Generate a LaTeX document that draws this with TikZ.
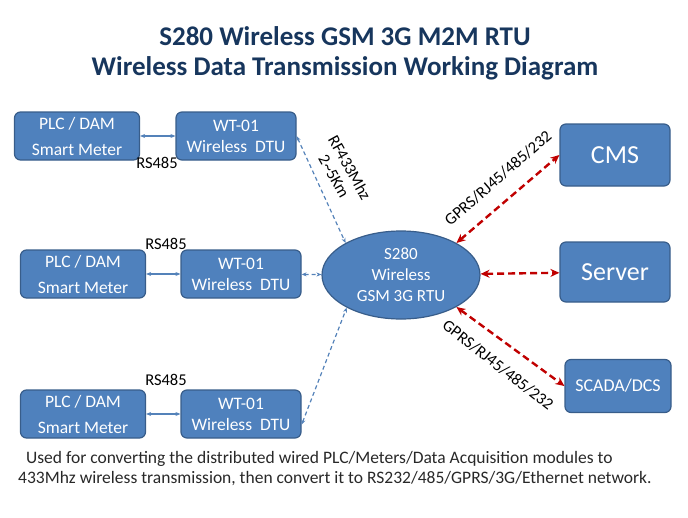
\documentclass[tikz,border=0pt]{standalone}
\usepackage{fontspec}
\setmainfont{Carlito}
\usepackage{tikz}
\usetikzlibrary{shapes.geometric,arrows.meta,positioning}
\definecolor{boxfill}{RGB}{79,129,189}
\definecolor{boxline}{RGB}{56,93,138}
\definecolor{linkblue}{RGB}{84,130,185}
\definecolor{linkred}{RGB}{192,0,0}
\definecolor{titlenavy}{RGB}{23,54,93}
\definecolor{notegrey}{RGB}{40,40,40}

\begin{document}
\begin{tikzpicture}[
  x=1pt, y=-1pt,
  box/.style={rectangle, rounded corners=6pt, draw=boxline, line width=1.2pt,
    fill=boxfill, text=white, align=center, inner sep=0pt,
    minimum width=125pt, minimum height=48pt, font=\fontsize{17.5}{21}\selectfont},
  dtubox/.style={box, minimum width=120pt},
  hostbox/.style={box, minimum width=110pt, minimum height=62pt,
    font=\fontsize{26}{28}\selectfont},
  rtu/.style={ellipse, draw=boxline, line width=1.2pt, fill=boxfill, text=white,
    align=center, inner sep=0pt, minimum width=158pt, minimum height=88pt,
    font=\fontsize{17}{21}\selectfont},
  wire/.style={{Stealth[length=5pt,width=4pt]}-{Stealth[length=5pt,width=4pt]},
    linkblue, line width=1.2pt},
  radio/.style={wire, dashed, dash pattern=on 4pt off 3pt},
  uplink/.style={{Stealth[length=9pt,width=8pt]}-{Stealth[length=9pt,width=8pt]},
    linkred, line width=2.4pt, dash pattern=on 7pt off 4pt},
  lbl/.style={font=\fontsize{16.5}{18}\selectfont, text=black, inner sep=0pt},
]
  \useasboundingbox (0,0) rectangle (688,517);

  % title
  \node[font=\fontsize{27}{30}\bfseries, text=titlenavy, align=center] (title) at (345,53)
    {S280 Wireless GSM 3G M2M RTU\\Wireless Data Transmission Working Diagram};

  % field side
  \node[box] (plcA) at (77,136) {PLC / DAM\\[5pt]Smart Meter};
  \node[dtubox] (dtuA) at (236,136) {WT-01\\Wireless\ \ DTU};
  \node[box] (plcB) at (83,274) {PLC / DAM\\[5pt]Smart Meter};
  \node[dtubox] (dtuB) at (241,274) {WT-01\\Wireless\ \ DTU};
  \node[box] (plcC) at (83,414) {PLC / DAM\\[5pt]Smart Meter};
  \node[dtubox] (dtuC) at (241,414) {WT-01\\Wireless\ \ DTU};

  \node[rtu] (gsm) at (401,275) {S280\\Wireless\\GSM 3G RTU};

  % host side
  \node[hostbox] (cms) at (615,155) {CMS};
  \node[hostbox, minimum height=60pt] (server) at (615,272) {Server};
  \node[hostbox, minimum width=106pt, minimum height=53pt,
    font=\fontsize{18}{20}\selectfont] (scada) at (618,386) {SCADA/DCS};

  % RS485 links
  \draw[wire] (plcA) -- (dtuA);
  \draw[wire] (plcB) -- (dtuB);
  \draw[wire] (plcC) -- (dtuC);
  \node[lbl] (rsA) at (157,163) {RS485};
  \node[lbl] (rsB) at (166,244) {RS485};
  \node[lbl] (rsC) at (166,380) {RS485};

  % radio links
  \draw[radio] (dtuA.east) -- (gsm.150);
  \draw[radio] (dtuB) -- (gsm);
  \draw[radio] (dtuC.-10) -- (gsm.211);
  \node[lbl, rotate=-61, align=center, font=\fontsize{16.5}{18}\selectfont] (rf) at (342,172)
    {RF433Mhz\\2\textasciitilde5Km};

  % uplinks
  \draw[uplink] (gsm.30) -- (cms.west);
  \draw[uplink] (gsm) -- (server);
  \draw[uplink] (gsm.-30) -- (scada.west);
  \node[lbl, rotate=41] (gprsA) at (498,178) {GPRS/RJ45/485/232};
  \node[lbl, rotate=-38] (gprsB) at (498,365) {GPRS/RJ45/485/232};

  % note
  \node[lbl, text=notegrey, align=left, font=\fontsize{17.5}{20}\selectfont,
    anchor=north west] (note) at (18,451)
    {\ \ Used for converting the distributed wired PLC/Meters/Data Acquisition modules to\\
     433Mhz wireless transmission, then convert it to RS232/485/GPRS/3G/Ethernet network.};
\end{tikzpicture}
\end{document}
